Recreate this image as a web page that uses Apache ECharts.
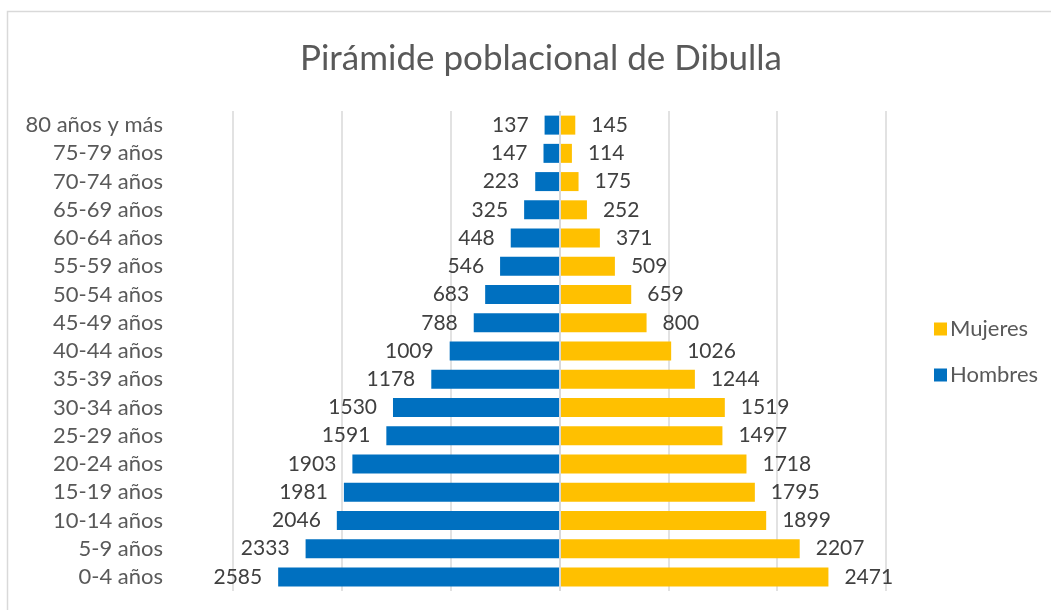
<!DOCTYPE html>
<html>
<head>
<meta charset="utf-8">
<script src="https://cdn.jsdelivr.net/npm/echarts@6/dist/echarts.min.js"></script>
<style>
  html, body { margin: 0; padding: 0; background: #fff; }
  #chart { width: 1051px; height: 610px; }
</style>
</head>
<body>
<div id="chart"></div>
<script>
// age groups, bottom to top
const grupos = [
  '0-4 años', '5-9 años', '10-14 años', '15-19 años', '20-24 años', '25-29 años',
  '30-34 años', '35-39 años', '40-44 años', '45-49 años', '50-54 años', '55-59 años',
  '60-64 años', '65-69 años', '70-74 años', '75-79 años', '80 años y más'
]
const hombres = [2585, 2333, 2046, 1981, 1903, 1591, 1530, 1178, 1009, 788, 683, 546, 448, 325, 223, 147, 137]
const mujeres = [2471, 2207, 1899, 1795, 1718, 1497, 1519, 1244, 1026, 800, 659, 509, 371, 252, 175, 114, 145]

const font = 'Lato'
const textColor = '#595959'

const chart = echarts.init(document.getElementById('chart'), null, { renderer: 'canvas' })

chart.setOption({
  animation: false,
  textStyle: { fontFamily: font },
  graphic: [{
    type: 'rect',
    shape: { x: 7.5, y: 11.5, width: 1100, height: 700 },
    style: { fill: 'none', stroke: '#d9d9d9', lineWidth: 1.5 },
    silent: true
  }],
  title: {
    text: 'Pirámide poblacional de Dibulla',
    left: 536,
    textAlign: 'center',
    top: 36,
    textStyle: { fontFamily: font, fontSize: 35, fontWeight: 'normal', color: textColor }
  },
  legend: {
    orient: 'vertical',
    left: 929,
    top: 313,
    itemWidth: 13,
    itemHeight: 13,
    itemGap: 24,
    icon: 'rect',
    data: ['Mujeres', 'Hombres'],
    textStyle: { fontFamily: font, fontSize: 22, color: textColor, padding: [0, 0, 0, -2] }
  },
  grid: { left: 233, right: 165, top: 111, bottom: 19, containLabel: false },
  xAxis: {
    type: 'value',
    min: -3000,
    max: 3000,
    interval: 1000,
    axisLabel: { show: false },
    axisLine: { show: false },
    axisTick: { show: false },
    splitLine: { lineStyle: { color: '#d9d9d9', width: 1.5 } }
  },
  yAxis: {
    type: 'category',
    data: grupos,
    axisLine: { show: false, onZero: false },
    axisTick: { show: false },
    axisLabel: { interval: 0, margin: 70, fontFamily: font, fontSize: 22, color: textColor }
  },
  series: [
    {
      name: 'Hombres',
      type: 'bar',
      stack: 'total',
      barWidth: 19,
      data: hombres.map(v => -v),
      itemStyle: { color: '#0070C0' },
      label: {
        show: true,
        position: 'left',
        distance: 16,
        fontFamily: font,
        fontSize: 21,
        color: '#404040',
        formatter: p => Math.abs(p.value)
      }
    },
    {
      name: 'Mujeres',
      type: 'bar',
      stack: 'total',
      barWidth: 19,
      data: mujeres,
      itemStyle: { color: '#FFC000' },
      label: {
        show: true,
        position: 'right',
        distance: 16,
        fontFamily: font,
        fontSize: 21,
        color: '#404040'
      },
      markLine: {
        silent: true,
        symbol: 'none',
        label: { show: false },
        lineStyle: { color: '#d9d9d9', width: 2, type: 'solid' },
        data: [{ xAxis: 0 }]
      }
    }
  ]
})

window.addEventListener('resize', () => chart.resize())
</script>
</body>
</html>
